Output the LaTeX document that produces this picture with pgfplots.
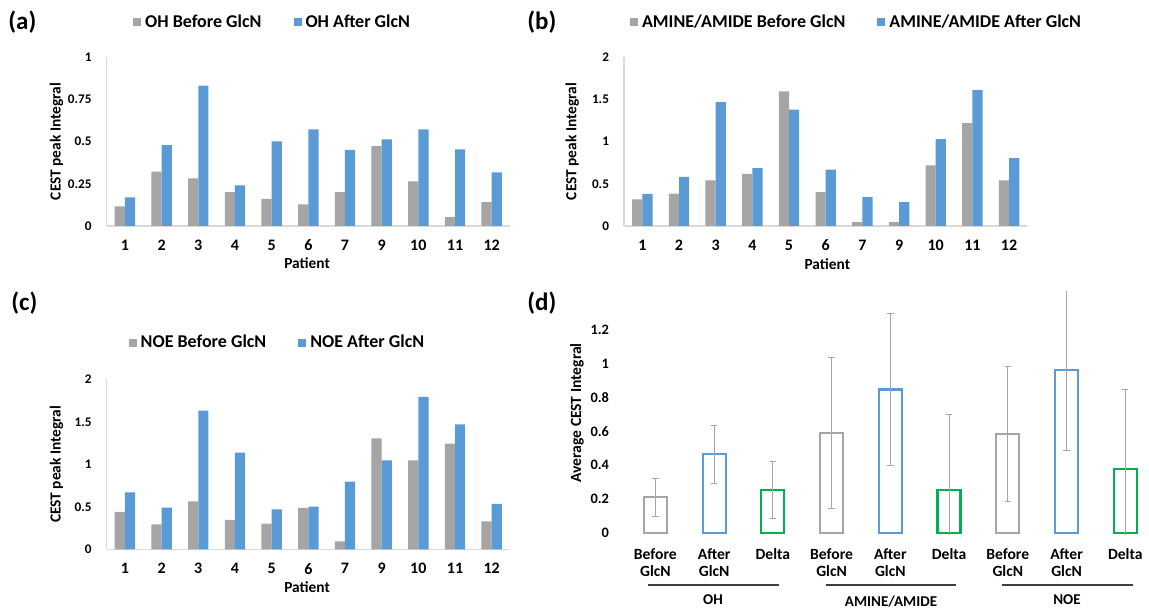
\documentclass[border=0pt]{standalone}
\usepackage{fontspec}
\setmainfont{Carlito}
\usepackage{pgfplots}
\pgfplotsset{compat=1.18}

\definecolor{bgray}{HTML}{A5A5A5}
\definecolor{bblue}{HTML}{5B9BD5}
\definecolor{bgreen}{HTML}{00B050}
\definecolor{axgray}{HTML}{D9D9D9}
\definecolor{errgray}{HTML}{A6A6A6}

\newcommand\bfs[1]{\fontsize{#1}{#1}\selectfont\bfseries}

\pgfplotsset{
  patient/.style={
    scale only axis, width=201.7pt, height=84.5pt,
    anchor=south west,
    ybar=0pt, bar width=5.1pt,
    xmin=-0.5, xmax=10.5, ymin=0,
    xtick={0,...,10}, xticklabels={1,2,3,4,5,6,7,9,10,11,12},
    axis x line*=bottom, axis y line*=left,
    axis line style={-, axgray, line width=0.7pt},
    major tick length=0pt,
    /pgf/number format/assume math mode=true,
    x tick label style={font=\bfs{8}, yshift=-3.5pt},
    y tick label style={font=\bfs{6.6}, xshift=-4pt},
    xlabel={Patient}, ylabel={CEST peak Integral},
    label style={font=\bfs{7.7}},
    legend columns=2,
    legend style={draw=none, fill=none, font=\bfs{9}, anchor=center,
      /tikz/every even column/.append style={column sep=14pt}},
    legend image code/.code={\fill[##1] (0pt,-2pt) rectangle (4pt,2pt);},
  },
}

\begin{document}
\begin{tikzpicture}
\path[use as bounding box] (0,0) rectangle (574.5pt,305.5pt);

% (a) OH
\node[anchor=west, inner sep=0pt, font=\bfs{12.5}] at (4pt,294.5pt) {(a)};
\begin{axis}[patient, at={(53.3pt,192.5pt)},
  ymax=1, ytick={0,0.25,0.5,0.75,1},
  legend style={at={(axis description cs:0.414,1.205)}},
  ylabel style={at={(axis description cs:-0.124,0.5)}, anchor=center},
  xlabel style={at={(axis description cs:0.497,-0.221)}, anchor=center}]
\addplot[fill=bgray, draw=none] coordinates {
  (0,0.116) (1,0.321) (2,0.282) (3,0.200) (4,0.160) (5,0.128)
  (6,0.200) (7,0.473) (8,0.264) (9,0.053) (10,0.142)};
\addplot[fill=bblue, draw=none] coordinates {
  (0,0.170) (1,0.478) (2,0.830) (3,0.240) (4,0.500) (5,0.572)
  (6,0.450) (7,0.513) (8,0.572) (9,0.454) (10,0.318)};
\legend{OH Before GlcN, OH After GlcN}
\end{axis}

% (b) AMINE/AMIDE
\node[anchor=west, inner sep=0pt, font=\bfs{12.5}] at (263.5pt,294.5pt) {(b)};
\begin{axis}[patient, at={(312pt,192.5pt)},
  ymax=2, ytick={0,0.5,1,1.5,2},
  legend style={at={(axis description cs:0.579,1.205)}},
  ylabel style={at={(axis description cs:-0.128,0.5)}, anchor=center},
  xlabel style={at={(axis description cs:0.504,-0.223)}, anchor=center}]
\addplot[fill=bgray, draw=none] coordinates {
  (0,0.314) (1,0.384) (2,0.541) (3,0.616) (4,1.592) (5,0.400)
  (6,0.047) (7,0.047) (8,0.718) (9,1.216) (10,0.541)};
\addplot[fill=bblue, draw=none] coordinates {
  (0,0.380) (1,0.580) (2,1.467) (3,0.686) (4,1.376) (5,0.667)
  (6,0.341) (7,0.282) (8,1.027) (9,1.608) (10,0.804)};
\legend{AMINE/AMIDE Before GlcN, AMINE/AMIDE After GlcN}
\end{axis}

% (c) NOE
\node[anchor=west, inner sep=0pt, font=\bfs{12.5}] at (5.5pt,154pt) {(c)};
\begin{axis}[patient, at={(53.3pt,30.85pt)}, height=85pt,
  ymax=2, ytick={0,0.5,1,1.5,2},
  legend style={at={(axis description cs:0.426,1.214)}},
  ylabel style={at={(axis description cs:-0.124,0.5)}, anchor=center},
  xlabel style={at={(axis description cs:0.497,-0.222)}, anchor=center}]
\addplot[fill=bgray, draw=none] coordinates {
  (0,0.439) (1,0.294) (2,0.565) (3,0.345) (4,0.302) (5,0.486)
  (6,0.094) (7,1.306) (8,1.047) (9,1.243) (10,0.329)};
\addplot[fill=bblue, draw=none] coordinates {
  (0,0.671) (1,0.490) (2,1.631) (3,1.137) (4,0.471) (5,0.502)
  (6,0.796) (7,1.047) (8,1.792) (9,1.471) (10,0.533)};
\legend{NOE Before GlcN, NOE After GlcN}
\end{axis}

% (d) averages
\node[anchor=west, inner sep=0pt, font=\bfs{12.5}] at (263.5pt,154pt) {(d)};
\begin{axis}[scale only axis, anchor=south west, at={(313pt,38.15pt)},
  width=258.45pt, height=121.8pt,
  xmin=-0.5, xmax=8.3, ymin=-0.012, ymax=1.43,
  ybar, bar width=11.5pt,
  axis line style={draw=none}, major tick length=0pt,
  xtick={0,...,8},
  xticklabels={{Before\\GlcN},{After\\GlcN},Delta,{Before\\GlcN},{After\\GlcN},Delta,{Before\\GlcN},{After\\GlcN},Delta},
  ytick={0,0.2,0.4,0.6,0.8,1,1.2},
  /pgf/number format/assume math mode=true,
  x tick label style={font=\fontsize{7.8}{8.4}\selectfont\bfseries, align=center, yshift=-3.4pt},
  y tick label style={font=\bfs{7.2}, xshift=-5pt},
  ylabel={Average CEST Integral},
  ylabel style={font=\bfs{7.8}, at={(axis description cs:-0.095,0.5)}, anchor=center},
  error bars/error bar style={errgray, line width=0.5pt},
  error bars/error mark options={errgray, rotate=90, mark size=1.6pt, line width=0.5pt}]
\addplot[fill=white, draw=bgray, line width=1.1pt, bar shift=0pt,
  error bars/.cd, y dir=both, y explicit] coordinates {
  (0,0.209) +- (0,0.112) (3,0.588) +- (0,0.447) (6,0.584) +- (0,0.397)};
\addplot[fill=white, draw=bblue, line width=1.1pt, bar shift=0pt,
  error bars/.cd, y dir=both, y explicit] coordinates {
  (1,0.464) +- (0,0.172) (4,0.847) +- (0,0.448) (7,0.961) +- (0,0.477)};
\addplot[fill=white, draw=bgreen, line width=1.1pt, bar shift=0pt,
  error bars/.cd, y dir=both, y explicit] coordinates {
  (2,0.251) +- (0,0.170) (5,0.255) +- (0,0.444) (8,0.375) +- (0,0.470)};
\end{axis}

% group brackets under (d)
\draw[black!75, line width=0.8pt] (323.75pt,13pt) -- (389.25pt,13pt);
\draw[black!75, line width=0.8pt] (412.9pt,13pt) -- (478.2pt,13pt);
\draw[black!75, line width=0.8pt] (501pt,13pt) -- (566.5pt,13pt);
\node[font=\bfs{7.5}, inner sep=0pt] at (356.5pt,5.5pt) {OH};
\node[font=\bfs{7.5}, inner sep=0pt] at (445.5pt,4.5pt) {AMINE/AMIDE};
\node[font=\bfs{7.5}, inner sep=0pt] at (533.5pt,5.5pt) {NOE};
\end{tikzpicture}
\end{document}
